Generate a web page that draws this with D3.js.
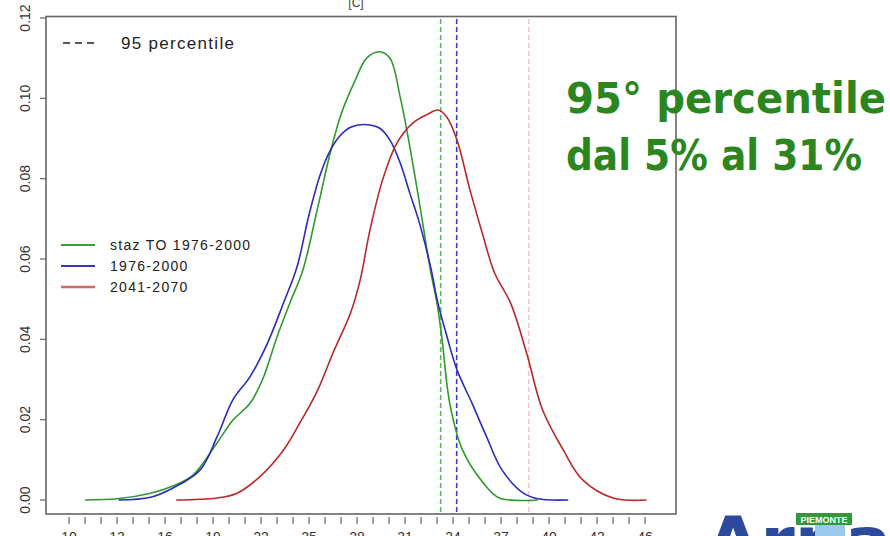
<!DOCTYPE html>
<html>
<head>
  <meta charset="utf-8">
  <script src="https://d3js.org/d3.v7.min.js"></script>
  <style>
    body { margin: 0; background: #fff; }
    svg { display: block; font-family: "Liberation Sans", Arial, sans-serif; }
  </style>
</head>
<body>
<script>
  // Density curves: [temperature, density]
  var stazTO = [[11.0,0],[13,0.0003],[15.1,0.0017],[16.5,0.0035],[17.75,0.0062],[19.25,0.0142],
    [20.25,0.0199],[21.3,0.024],[22.1,0.030],[23,0.0406],[23.8,0.049],[24.6,0.057],[25.5,0.072],
    [26.3,0.086],[27.0,0.096],[27.9,0.1046],[28.6,0.110],[29.4,0.1116],[30.06,0.110],[30.7,0.1003],
    [31.3,0.088],[31.9,0.074],[32.6,0.057],[33.0,0.049],[33.3,0.0406],[33.8,0.024],[34.6,0.0124],
    [35.9,0.0042],[36.9,0.0005],[39.3,0]];
  var hist7600 = [[13.1,0],[15.1,0.0007],[16.5,0.003],[18.2,0.0075],[19.25,0.0157],[20.25,0.025],
    [21.3,0.0306],[22.4,0.039],[23.4,0.049],[24.25,0.058],[25.0,0.071],[25.7,0.081],[26.3,0.0868],
    [26.9,0.0905],[27.6,0.0928],[28.4,0.0935],[29.4,0.0926],[30.06,0.0896],[30.7,0.0839],[31.3,0.0764],
    [31.9,0.069],[32.6,0.058],[33.06,0.049],[33.6,0.041],[34.25,0.0324],[35.2,0.024],[36.1,0.0157],
    [37.06,0.0075],[38.4,0.0017],[39.3,0.0003],[41.2,0]];
  var scen4170 = [[16.7,0],[19.25,0.0005],[20.5,0.0017],[21.9,0.0057],[23.4,0.0124],[24.4,0.019],
    [25.5,0.027],[26.5,0.0366],[27.6,0.0466],[28.2,0.0548],[28.8,0.067],[29.6,0.0797],[30.5,0.0889],
    [31.5,0.0939],[32.4,0.096],[33.06,0.0971],[33.6,0.0954],[34.25,0.0896],[35.06,0.0772],
    [35.9,0.0655],[36.6,0.0565],[37.6,0.049],[38.6,0.0366],[39.6,0.0224],[40.9,0.0124],[42.1,0.005],
    [44,0.0005],[46.1,0]];
  var p95 = [33.23, 34.23, 38.73];   // 95th percentile of each series
  var seriesNames = ["staz TO 1976-2000", "1976-2000", "2041-2070"];
  var xTickLabels = [10, 13, 16, 19, 22, 25, 28, 31, 34, 37, 40, 43, 46];
  var yTickLabels = [0, 0.02, 0.04, 0.06, 0.08, 0.10, 0.12];

  var colors = ["#2f9a2f", "#2c2cb8", "#b52a2a"];
  var dashColors = ["#5cb85c", "#3a3ad0", "#f2c4cc"];
  var legendColors = ["#3a9e3a", "#3636c0", "#c96a6a"];

  var W = 890, H = 536;
  var svg = d3.select("body").append("svg").attr("width", W).attr("height", H);

  var x = d3.scaleLinear().domain([10, 46]).range([69, 645]);
  var y = d3.scaleLinear().domain([0, 0.12]).range([500, 18]);

  // plot frame
  svg.append("rect")
    .attr("x", 46).attr("y", 16.5).attr("width", 630).attr("height", 497.5)
    .attr("fill", "none").attr("stroke", "#666").attr("stroke-width", 1.6);

  // title (cut off at the top)
  svg.append("text").attr("x", 356).attr("y", 7).attr("text-anchor", "middle")
    .attr("font-size", 12).attr("fill", "#444").text("[C]");

  // y axis
  var yAxis = svg.append("g");
  yTickLabels.forEach(function (v) {
    yAxis.append("line").attr("x1", 40).attr("x2", 46).attr("y1", y(v)).attr("y2", y(v))
      .attr("stroke", "#666").attr("stroke-width", 1.2);
    yAxis.append("text")
      .attr("transform", "translate(30," + y(v) + ") rotate(-90)")
      .attr("text-anchor", "middle").attr("font-size", 14).attr("fill", "#333")
      .text(v.toFixed(2));
  });

  // x axis: tick every degree, label every 3
  var xAxis = svg.append("g");
  d3.range(10, 47).forEach(function (v) {
    xAxis.append("line").attr("x1", x(v)).attr("x2", x(v)).attr("y1", 517).attr("y2", 524)
      .attr("stroke", "#666").attr("stroke-width", 1.2);
  });
  xTickLabels.forEach(function (v) {
    xAxis.append("text").attr("x", x(v)).attr("y", 542).attr("text-anchor", "middle")
      .attr("font-size", 14).attr("fill", "#333").text(v);
  });

  // percentile lines
  p95.forEach(function (v, i) {
    svg.append("line").attr("x1", x(v)).attr("x2", x(v)).attr("y1", 19).attr("y2", 513)
      .attr("stroke", dashColors[i]).attr("stroke-width", 1.6).attr("stroke-dasharray", "5,3");
  });

  // curves
  var line = d3.line()
    .x(function (d) { return x(d[0]); })
    .y(function (d) { return y(d[1]); })
    .curve(d3.curveCatmullRom.alpha(0.5));
  [stazTO, hist7600, scen4170].forEach(function (s, i) {
    svg.append("path").datum(s).attr("d", line)
      .attr("fill", "none").attr("stroke", colors[i]).attr("stroke-width", 1.6);
  });

  // legend: percentile
  svg.append("line").attr("x1", 63).attr("x2", 97).attr("y1", 43).attr("y2", 43)
    .attr("stroke", "#222").attr("stroke-width", 1.5).attr("stroke-dasharray", "7,5");
  svg.append("text").attr("x", 121).attr("y", 49).attr("font-size", 17).attr("fill", "#222")
    .attr("letter-spacing", 1.3).text("95 percentile");

  // legend: series
  seriesNames.forEach(function (n, i) {
    var ly = 245 + i * 21;
    svg.append("line").attr("x1", 61).attr("x2", 95).attr("y1", ly).attr("y2", ly)
      .attr("stroke", legendColors[i]).attr("stroke-width", i === 2 ? 2.4 : 1.8);
    svg.append("text").attr("x", 110).attr("y", ly + 5).attr("font-size", 14).attr("fill", "#222")
      .attr("letter-spacing", 1.3).text(n);
  });

  // annotation
  var note = svg.append("g").attr("font-family", "'DejaVu Sans', sans-serif")
    .attr("font-weight", "bold").attr("fill", "#2b861f").attr("font-size", 42);
  note.append("text").attr("x", 566).attr("y", 113)
    .attr("textLength", 320).attr("lengthAdjust", "spacingAndGlyphs").text("95° percentile");
  note.append("text").attr("x", 566).attr("y", 170)
    .attr("textLength", 296).attr("lengthAdjust", "spacingAndGlyphs").text("dal 5% al 31%");

  // logo fragment at the bottom right
  var logo = svg.append("g");
  logo.append("text").attr("x", 706).attr("y", 566).attr("font-size", 70)
    .attr("font-weight", "bold").attr("fill", "#2c4a9c").attr("font-family", "'DejaVu Sans', sans-serif")
    .text("Arpa");
  logo.append("rect").attr("x", 796).attr("y", 513).attr("width", 56).attr("height", 12)
    .attr("fill", "#2e9a3a");
  logo.append("text").attr("x", 824).attr("y", 523).attr("text-anchor", "middle")
    .attr("font-size", 9).attr("font-weight", "bold").attr("fill", "#fff").text("PIEMONTE");
  logo.append("rect").attr("x", 815).attr("y", 525).attr("width", 30).attr("height", 11)
    .attr("fill", "#9cc8ec");
</script>
</body>
</html>
